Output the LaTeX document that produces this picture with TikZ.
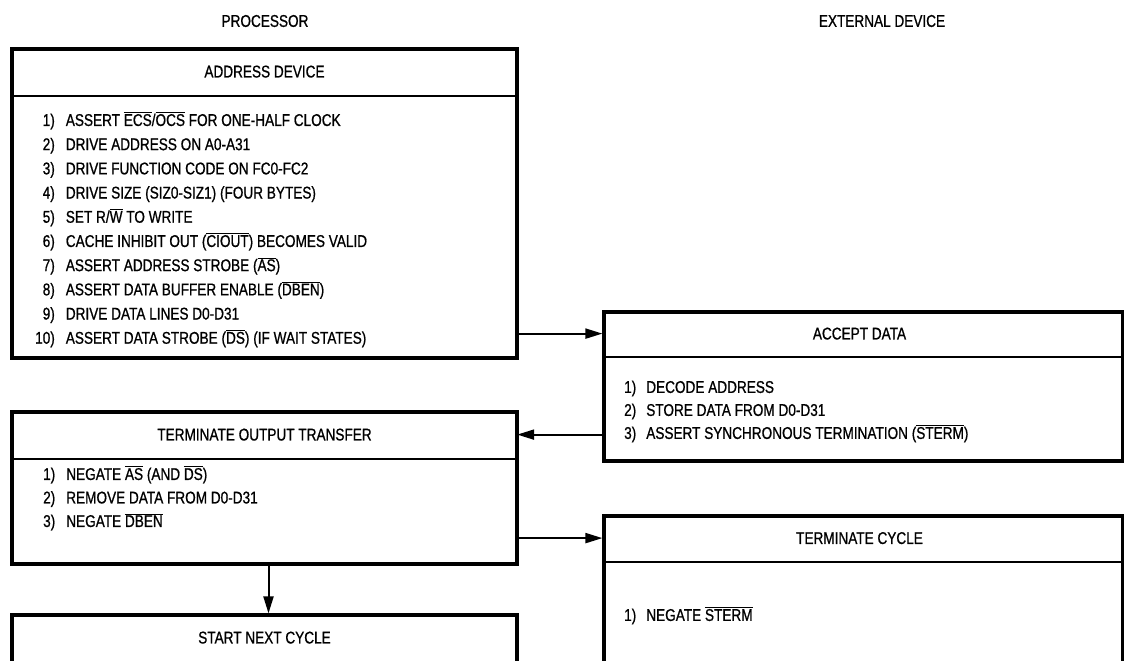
\documentclass[tikz,border=0pt]{standalone}
\usepackage{fontspec}
\setmainfont{Liberation Sans}[FakeStretch=0.8, FakeBold=0.8]
\usetikzlibrary{arrows.meta}
\newcommand\nb[1]{\ensuremath{\overline{\hbox{#1}}}}
\begin{document}
\begin{tikzpicture}[x=1pt,y=-1pt,
  frame/.style={draw, line width=3.2pt, inner sep=0pt},
  head/.style={inner sep=0pt, font=\fontsize{17}{20}\selectfont, anchor=north},
  divider/.style={line width=2pt},
  list/.style={inner sep=0pt, anchor=north west, font=\fontsize{17}{#1}\selectfont},
  title/.style={inner sep=0pt, font=\fontsize{17}{20}\selectfont},
  arr/.style={line width=2pt, -{Triangle[length=17pt,width=10pt]}}
]
\useasboundingbox (0,0) rectangle (1124,661);
\fill[white] (0,0) rectangle (1124,661);
\clip (0,0) rectangle (1124,661);

% titles
\node[title] (proc) at (265,21) {PROCESSOR};
\node[title] (ext) at (882,21) {EXTERNAL DEVICE};

% ADDRESS DEVICE
\node[frame, minimum width=505pt, minimum height=309pt] (ad) at (264.5,203.5) {};
\node[head, minimum width=505pt, minimum height=48pt] (adh) at (ad.north) {ADDRESS DEVICE};
\draw[divider] (adh.south west) -- (adh.south east);
\node[list=24.2] (adl) at (35,108.8) {\begin{tabular}{@{}r@{\hspace{11pt}}l@{}}
1) & ASSERT \nb{ECS}/\nb{OCS} FOR ONE-HALF CLOCK\\
2) & DRIVE ADDRESS ON A0-A31\\
3) & DRIVE FUNCTION CODE ON FC0-FC2\\
4) & DRIVE SIZE (SIZ0-SIZ1) (FOUR BYTES)\\
5) & SET R/\nb{W} TO WRITE\\
6) & CACHE INHIBIT OUT (\nb{CIOUT}) BECOMES VALID\\
7) & ASSERT ADDRESS STROBE (\nb{AS})\\
8) & ASSERT DATA BUFFER ENABLE (\nb{DBEN})\\
9) & DRIVE DATA LINES D0-D31\\
10) & ASSERT DATA STROBE (\nb{DS}) (IF WAIT STATES)
\end{tabular}};

% ACCEPT DATA
\node[frame, minimum width=519pt, minimum height=149pt] (acc) at (863.5,386.5) {};
\node[head, minimum width=519pt, minimum height=46pt, xshift=-4pt] (acch) at (acc.north) {ACCEPT DATA};
\draw[divider] (acc.west |- acch.south) -- (acc.east |- acch.south);
\node[list=23] (accl) at (624,376.6) {\begin{tabular}{@{}r@{\hspace{10pt}}l@{}}
1) & DECODE ADDRESS\\
2) & STORE DATA FROM D0-D31\\
3) & ASSERT SYNCHRONOUS TERMINATION (\nb{STERM})
\end{tabular}};

% TERMINATE OUTPUT TRANSFER
\node[frame, minimum width=505pt, minimum height=152pt] (tot) at (264.5,488) {};
\node[head, minimum width=505pt, minimum height=48pt] (toth) at (tot.north) {TERMINATE OUTPUT TRANSFER};
\draw[divider] (toth.south west) -- (toth.south east);
\node[list=23.5] (totl) at (43,463.3) {\begin{tabular}{@{}r@{\hspace{11pt}}l@{}}
1) & NEGATE \nb{AS} (AND \nb{DS})\\
2) & REMOVE DATA FROM D0-D31\\
3) & NEGATE \nb{DBEN}
\end{tabular}};

% TERMINATE CYCLE
\node[frame, minimum width=519pt, minimum height=147pt] (tc) at (863.5,589.5) {};
\node[head, minimum width=519pt, minimum height=47pt, xshift=-4pt] (tch) at (tc.north) {TERMINATE CYCLE};
\draw[divider] (tc.west |- tch.south) -- (tc.east |- tch.south);
\node[list=23] (tcl) at (624,604.6) {\begin{tabular}{@{}r@{\hspace{10pt}}l@{}}
1) & NEGATE \nb{STERM}
\end{tabular}};

% START NEXT CYCLE
\node[frame, minimum width=505pt, minimum height=145pt] (snc) at (264.5,687.5) {};
\node[head, minimum width=505pt, minimum height=48pt] (snch) at (snc.north) {START NEXT CYCLE};

% connectors
\draw[arr] (ad.east |- acch.west) -- (acc.west |- acch.west);
\draw[arr] (acc.west |- toth.east) -- (toth.east);
\draw[arr] (tot.east |- tch.west) -- (tc.west |- tch.west);
\draw[arr] ([xshift=4pt]tot.south) -- ([xshift=4pt]snc.north);
\end{tikzpicture}
\end{document}
